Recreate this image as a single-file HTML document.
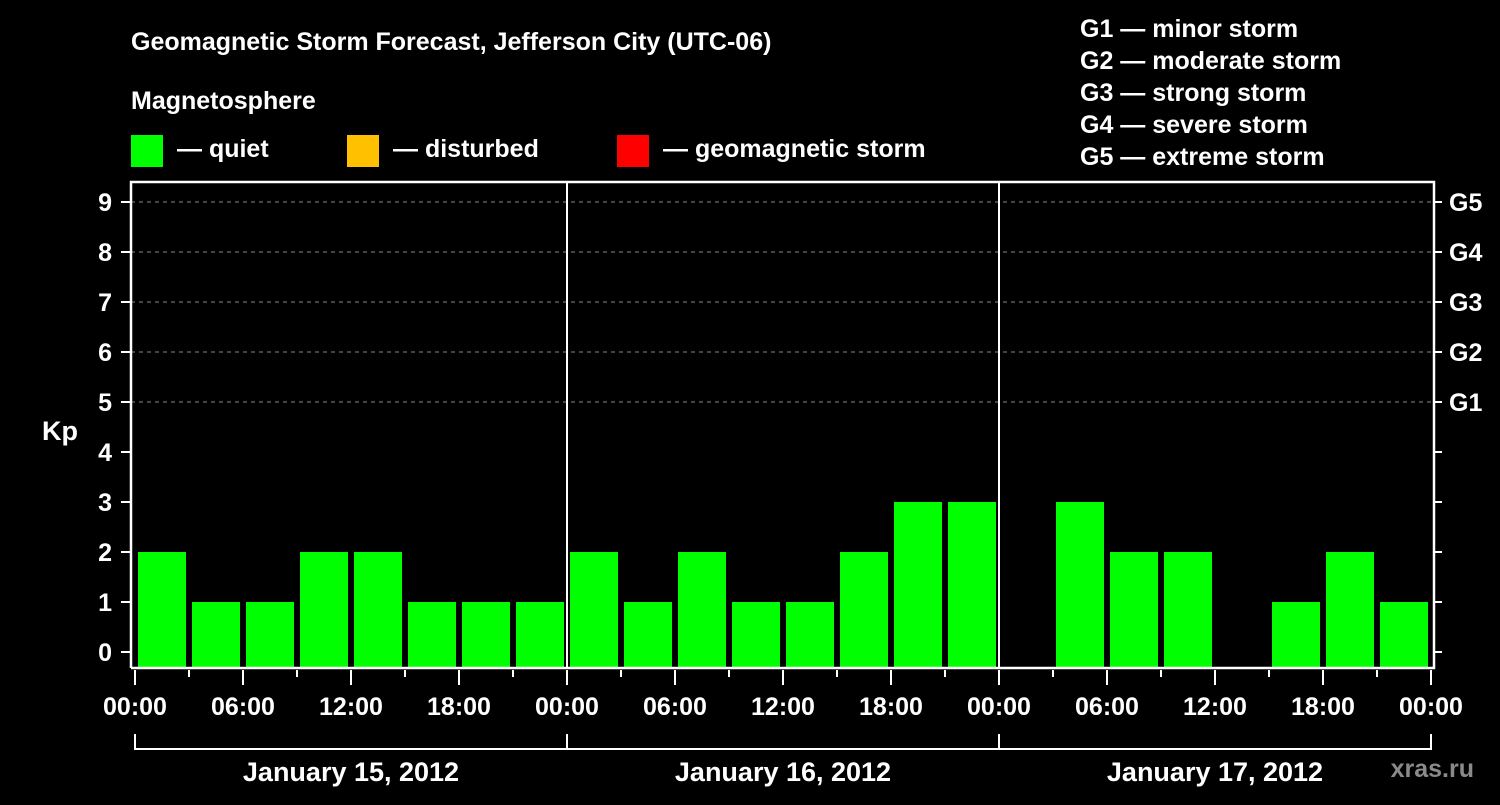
<!DOCTYPE html>
<html><head><meta charset="utf-8"><style>
body{margin:0;background:#000;width:1500px;height:800px;overflow:hidden}
svg text{font-family:"Liberation Sans",Arial,sans-serif;font-weight:bold;fill:#fff}
</style></head><body>
<svg id="chart" width="1500" height="800" xmlns="http://www.w3.org/2000/svg">
<rect width="1500" height="800" fill="#000"/>
<text x="131" y="50" font-size="25">Geomagnetic Storm Forecast, Jefferson City (UTC-06)</text>
<text x="131" y="109" font-size="25">Magnetosphere</text>
<g><rect x="131" y="135" width="32" height="32" fill="#00ff00"/><text x="177" y="157" font-size="25">— quiet</text></g>
<g><rect x="347" y="135" width="32" height="32" fill="#ffc000"/><text x="393" y="157" font-size="25">— disturbed</text></g>
<g><rect x="617" y="135" width="32" height="32" fill="#ff0000"/><text x="663" y="157" font-size="25">— geomagnetic storm</text></g>
<g font-size="25">
<text x="1080" y="37">G1 — minor storm</text>
<text x="1080" y="69">G2 — moderate storm</text>
<text x="1080" y="101">G3 — strong storm</text>
<text x="1080" y="133">G4 — severe storm</text>
<text x="1080" y="165">G5 — extreme storm</text>
</g>
<text x="42" y="440" font-size="27">Kp</text>
<text x="1474" y="777" font-size="25" fill="#888" style="fill:#8a8a8a" text-anchor="end">xras.ru</text>
<g id="plot"></g>
</svg>
<script>
const kpValues=[2,1,1,2,2,1,1,1, 2,1,2,1,1,2,3,3, 0,3,2,2,0,1,2,1];
const dayLabels=["January 15, 2012","January 16, 2012","January 17, 2012"];
const hourLabels=["00:00","06:00","12:00","18:00"];
const gLabels=["G1","G2","G3","G4","G5"];
const NS="http://www.w3.org/2000/svg";
const plot=document.getElementById('plot');
const L=131,R=1434,T=182,B=668,X0=135,DAYW=432;
const y=v=>652-50*v;
const x=h=>X0+h*DAYW/24;
function mk(tag,attrs,parent){const e=document.createElementNS(NS,tag);for(const k in attrs)e.setAttribute(k,attrs[k]);(parent||plot).appendChild(e);return e;}
// grid
for(let v=5;v<=9;v++){
 const g=mk('line',{x1:L,x2:R,y1:y(v),y2:y(v),stroke:'#888','stroke-dasharray':'4,4','stroke-width':1});
 
 
}
// bars
kpValues.forEach((v,i)=>{
 if(v<=0)return;
 const c=v>=5?'#ff0000':(v>=4?'#ffc000':'#00ff00');
 const r=mk('rect',{x:x(i*3)+3,y:y(v),width:48,height:B-y(v),fill:c});
 
 
});
// frame
const f=mk('path',{d:`M${L},${B}V${T}H${R}V${B}H${L}`,fill:'none',stroke:'#fff','stroke-width':2.5});


for(let d=1;d<3;d++){
 const s=mk('line',{x1:x(24*d),x2:x(24*d),y1:T,y2:B,stroke:'#fff','stroke-width':2});
 
 
}
// y ticks
for(let v=0;v<=9;v++){
 mk('line',{x1:L-10,x2:L,y1:y(v),y2:y(v),stroke:'#fff','stroke-width':2});
 mk('line',{x1:R,x2:R+8,y1:y(v),y2:y(v),stroke:'#fff','stroke-width':2});
 const t=mk('text',{x:112,y:y(v)+9,'font-size':25,'text-anchor':'end'});t.textContent=v;
 
 
}
gLabels.forEach((g,i)=>{
 const t=mk('text',{x:1449,y:y(5+i)+9,'font-size':25});t.textContent=g;
 
 
});
// x ticks
for(let h=0;h<=72;h+=3){
 const major=h%6===0;
 mk('line',{x1:x(h),x2:x(h),y1:B+2,y2:major?B+17:B+9,stroke:'#fff','stroke-width':2});
 if(major){
  const t=mk('text',{x:x(h),y:715,'font-size':25,'text-anchor':'middle'});t.textContent=hourLabels[(h/6)%4];
  
  
 }
}
// day brackets
mk('path',{d:`M${x(0)},734V749H${x(72)}V734`,fill:'none',stroke:'#fff','stroke-width':2});
for(let d=1;d<3;d++)mk('line',{x1:x(24*d),x2:x(24*d),y1:734,y2:749,stroke:'#fff','stroke-width':2});
dayLabels.forEach((s,d)=>{
 const t=mk('text',{x:x(24*d+12),y:781,'font-size':27,'text-anchor':'middle'});t.textContent=s;
 
 
});
</script>
</body></html>
